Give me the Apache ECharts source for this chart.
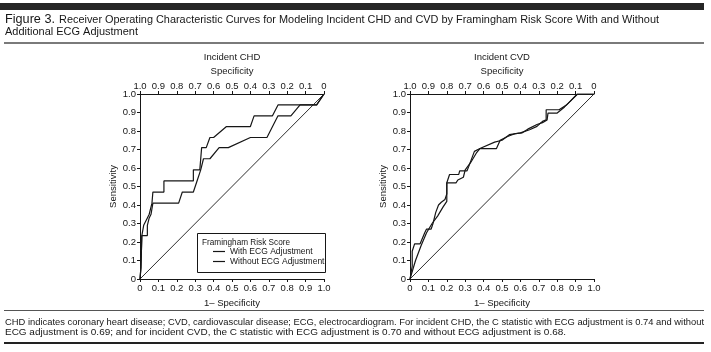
<!DOCTYPE html>
<html>
<head>
<meta charset="utf-8">
<script src="https://cdn.jsdelivr.net/npm/echarts@6/dist/echarts.min.js"></script>
<style>
html,body{margin:0;padding:0;background:#fff;}
#c{width:711px;height:352px;}
</style>
</head>
<body>
<div id="c"></div>
<script>
// ---- Data (x = 1 - specificity, y = sensitivity) ----
const seriesNames = ['With ECG Adjustment', 'Without ECG Adjustment'];
const panelTitles = ['Incident CHD', 'Incident CVD'];
const legendTitle = 'Framingham Risk Score';

const chdWithX = [0, 0.005, 0.01, 0.01, 0.02, 0.02, 0.04, 0.05, 0.06, 0.065, 0.07, 0.07, 0.13, 0.13, 0.29, 0.29, 0.325, 0.335, 0.36, 0.38, 0.40, 0.47, 0.60, 0.62, 0.72, 0.75, 0.96, 1.0];
const chdWithY = [0, 0.06, 0.06, 0.235, 0.235, 0.29, 0.33, 0.35, 0.35, 0.41, 0.41, 0.47, 0.47, 0.53, 0.53, 0.59, 0.59, 0.71, 0.71, 0.765, 0.765, 0.824, 0.824, 0.882, 0.882, 0.941, 0.941, 1.0];

const chdWithoutX = [0, 0.005, 0.01, 0.01, 0.04, 0.04, 0.05, 0.06, 0.065, 0.07, 0.21, 0.23, 0.29, 0.31, 0.33, 0.345, 0.38, 0.43, 0.48, 0.60, 0.69, 0.75, 0.82, 0.87, 0.96, 1.0];
const chdWithoutY = [0, 0.06, 0.06, 0.235, 0.235, 0.29, 0.33, 0.35, 0.35, 0.41, 0.41, 0.47, 0.47, 0.53, 0.59, 0.65, 0.65, 0.71, 0.71, 0.765, 0.765, 0.882, 0.882, 0.941, 0.941, 1.0];

const cvdWithX = [0, 0.012, 0.012, 0.025, 0.055, 0.08, 0.09, 0.115, 0.125, 0.14, 0.155, 0.17, 0.19, 0.20, 0.20, 0.215, 0.265, 0.27, 0.31, 0.32, 0.35, 0.38, 0.46, 0.50, 0.54, 0.60, 0.65, 0.69, 0.72, 0.74, 0.74, 0.81, 0.85, 0.88, 0.91, 1.0];
const cvdWithY = [0, 0.07, 0.15, 0.19, 0.19, 0.25, 0.27, 0.27, 0.30, 0.36, 0.40, 0.415, 0.43, 0.46, 0.52, 0.565, 0.565, 0.585, 0.585, 0.61, 0.69, 0.705, 0.74, 0.75, 0.78, 0.79, 0.807, 0.825, 0.852, 0.86, 0.915, 0.915, 0.94, 0.97, 1.0, 1.0];

const cvdWithoutX = [0, 0.03, 0.06, 0.09, 0.12, 0.15, 0.18, 0.20, 0.20, 0.25, 0.26, 0.29, 0.30, 0.33, 0.36, 0.38, 0.47, 0.49, 0.53, 0.57, 0.61, 0.64, 0.69, 0.72, 0.745, 0.75, 0.80, 0.84, 0.87, 0.91, 1.0];
const cvdWithoutY = [0, 0.10, 0.18, 0.25, 0.30, 0.34, 0.39, 0.42, 0.52, 0.52, 0.535, 0.55, 0.59, 0.63, 0.68, 0.705, 0.705, 0.75, 0.77, 0.785, 0.79, 0.81, 0.835, 0.845, 0.86, 0.897, 0.897, 0.93, 0.96, 1.0, 1.0];

const refX = [0, 1];
const refY = [0, 1];

const figLabel = 'Figure 3.';
const titleLine1 = 'Receiver Operating Characteristic Curves for Modeling Incident CHD and CVD by Framingham Risk Score With and Without';
const titleLine2 = 'Additional ECG Adjustment';
const captionLine1 = 'CHD indicates coronary heart disease; CVD, cardiovascular disease; ECG, electrocardiogram. For incident CHD, the C statistic with ECG adjustment is 0.74 and without';
const captionLine2 = 'ECG adjustment is 0.69; and for incident CVD, the C statistic with ECG adjustment is 0.70 and without ECG adjustment is 0.68.';

// ---- Build ----
const zip = (xs, ys) => xs.map((x, i) => [x, ys[i]]);
const FONT = "'Liberation Sans', Arial, sans-serif";
const INK = '#161616';
const fmt = v => (v === 0 ? '0' : v.toFixed(1));

// horizontal squeeze so text spans the same width as in the figure
const mctx = document.createElement('canvas').getContext('2d');
function fitScale(text, font, targetW) {
  mctx.font = font;
  return targetW / mctx.measureText(text).width;
}
function fitText(text, x, y, size, targetW, extra) {
  const font = size + "px 'Liberation Sans', Arial, sans-serif";
  return Object.assign({
    type: 'text', x: x, y: y, scaleX: fitScale(text, font, targetW), scaleY: 1,
    style: { text: text, font: font, fill: INK, verticalAlign: 'middle' }
  }, extra || {});
}

const grids = [
  { left: 140, top: 94, width: 184, height: 185 },
  { left: 410, top: 94, width: 184, height: 185 }
];
const AX = 9.5;

function bottomAxis(g) {
  return {
    type: 'value', gridIndex: g, position: 'bottom', min: 0, max: 1, interval: 0.1,
    name: '1\u2013 Specificity', nameLocation: 'middle', nameGap: 16,
    nameTextStyle: { fontFamily: FONT, fontSize: AX, color: INK },
    axisLine: { onZero: false, lineStyle: { color: INK, width: 1 } },
    axisTick: { length: 3, lineStyle: { color: INK } },
    axisLabel: { margin: 4, fontFamily: FONT, fontSize: AX, color: INK, formatter: fmt },
    splitLine: { show: false }
  };
}
function topAxis(g) {
  return {
    type: 'value', gridIndex: g, position: 'top', inverse: true, min: 0, max: 1, interval: 0.1,
    name: 'Specificity', nameLocation: 'middle', nameGap: 17,
    nameTextStyle: { fontFamily: FONT, fontSize: AX, color: INK },
    axisLine: { onZero: false, lineStyle: { color: INK, width: 1 } },
    axisTick: { length: 3, lineStyle: { color: INK } },
    axisLabel: { margin: 3, fontFamily: FONT, fontSize: AX, color: INK, formatter: fmt },
    splitLine: { show: false }
  };
}
function leftAxis(g) {
  return {
    type: 'value', gridIndex: g, min: 0, max: 1, interval: 0.1,
    name: 'Sensitivity', nameLocation: 'middle', nameGap: 22, nameRotate: 90,
    nameTextStyle: { fontFamily: FONT, fontSize: AX, color: INK },
    axisLine: { show: true, onZero: false, lineStyle: { color: INK, width: 1 } },
    axisTick: { show: true, length: 3, lineStyle: { color: INK } },
    axisLabel: { margin: 4, fontFamily: FONT, fontSize: AX, color: INK, formatter: fmt },
    splitLine: { show: false }
  };
}

function curve(name, xIdx, yIdx, xs, ys, w) {
  return {
    name: name, type: 'line', xAxisIndex: xIdx, yAxisIndex: yIdx,
    data: zip(xs, ys), symbol: 'none', showSymbol: false, animation: false,
    lineStyle: { color: INK, width: w || 1.2 }, itemStyle: { color: INK }, z: 3
  };
}

const option = {
  animation: false,
  backgroundColor: '#fff',
  grid: grids,
  xAxis: [bottomAxis(0), topAxis(0), bottomAxis(1), topAxis(1)],
  yAxis: [leftAxis(0), leftAxis(1)],
  legend: {
    data: seriesNames, orient: 'vertical', left: 213, top: 247, padding: 0, z: 10,
    icon: 'rect', itemWidth: 12, itemHeight: 1.2, itemGap: 1,
    itemStyle: { color: INK, borderWidth: 0 },
    textStyle: { fontFamily: FONT, fontSize: 8.5, color: INK },
    selectedMode: false
  },
  series: [
    curve(seriesNames[0], 0, 0, chdWithX, chdWithY),
    curve(seriesNames[1], 0, 0, chdWithoutX, chdWithoutY),
    curve('ref1', 0, 0, refX, refY, 0.9),
    curve(seriesNames[0], 2, 1, cvdWithX, cvdWithY),
    curve(seriesNames[1], 2, 1, cvdWithoutX, cvdWithoutY),
    curve('ref2', 2, 1, refX, refY, 0.9)
  ],
  graphic: [
    { type: 'rect', shape: { x: 0, y: 3, width: 704, height: 7 }, style: { fill: '#262626' } },
    fitText(figLabel, 5, 20, 12, 50),
    fitText(titleLine1, 59, 20, 10.5, 600),
    fitText(titleLine2, 5, 32, 10.5, 133),
    { type: 'rect', shape: { x: 4, y: 42, width: 700, height: 2 }, style: { fill: '#7a7a7a' } },
    { type: 'text', x: 232, y: 57, style: { text: panelTitles[0], font: AX + 'px ' + FONT, fill: INK, align: 'center', verticalAlign: 'middle' } },
    { type: 'text', x: 502, y: 57, style: { text: panelTitles[1], font: AX + 'px ' + FONT, fill: INK, align: 'center', verticalAlign: 'middle' } },
    { type: 'rect', z: 1, shape: { x: 197.5, y: 233.5, width: 128, height: 39 }, style: { fill: 'none', stroke: INK, lineWidth: 1 } },
    fitText(legendTitle, 202, 242, 9.5, 88, { z: 6 }),
    { type: 'rect', shape: { x: 4, y: 310, width: 700, height: 1 }, style: { fill: '#555' } },
    fitText(captionLine1, 5, 322, 9.5, 699),
    fitText(captionLine2, 5, 332, 9.5, 561),
    { type: 'rect', shape: { x: 4, y: 342, width: 700, height: 2 }, style: { fill: '#222' } }
  ]
};
const chart = echarts.init(document.getElementById('c'), null, { renderer: 'canvas' });
chart.setOption(option);
</script>
</body>
</html>
